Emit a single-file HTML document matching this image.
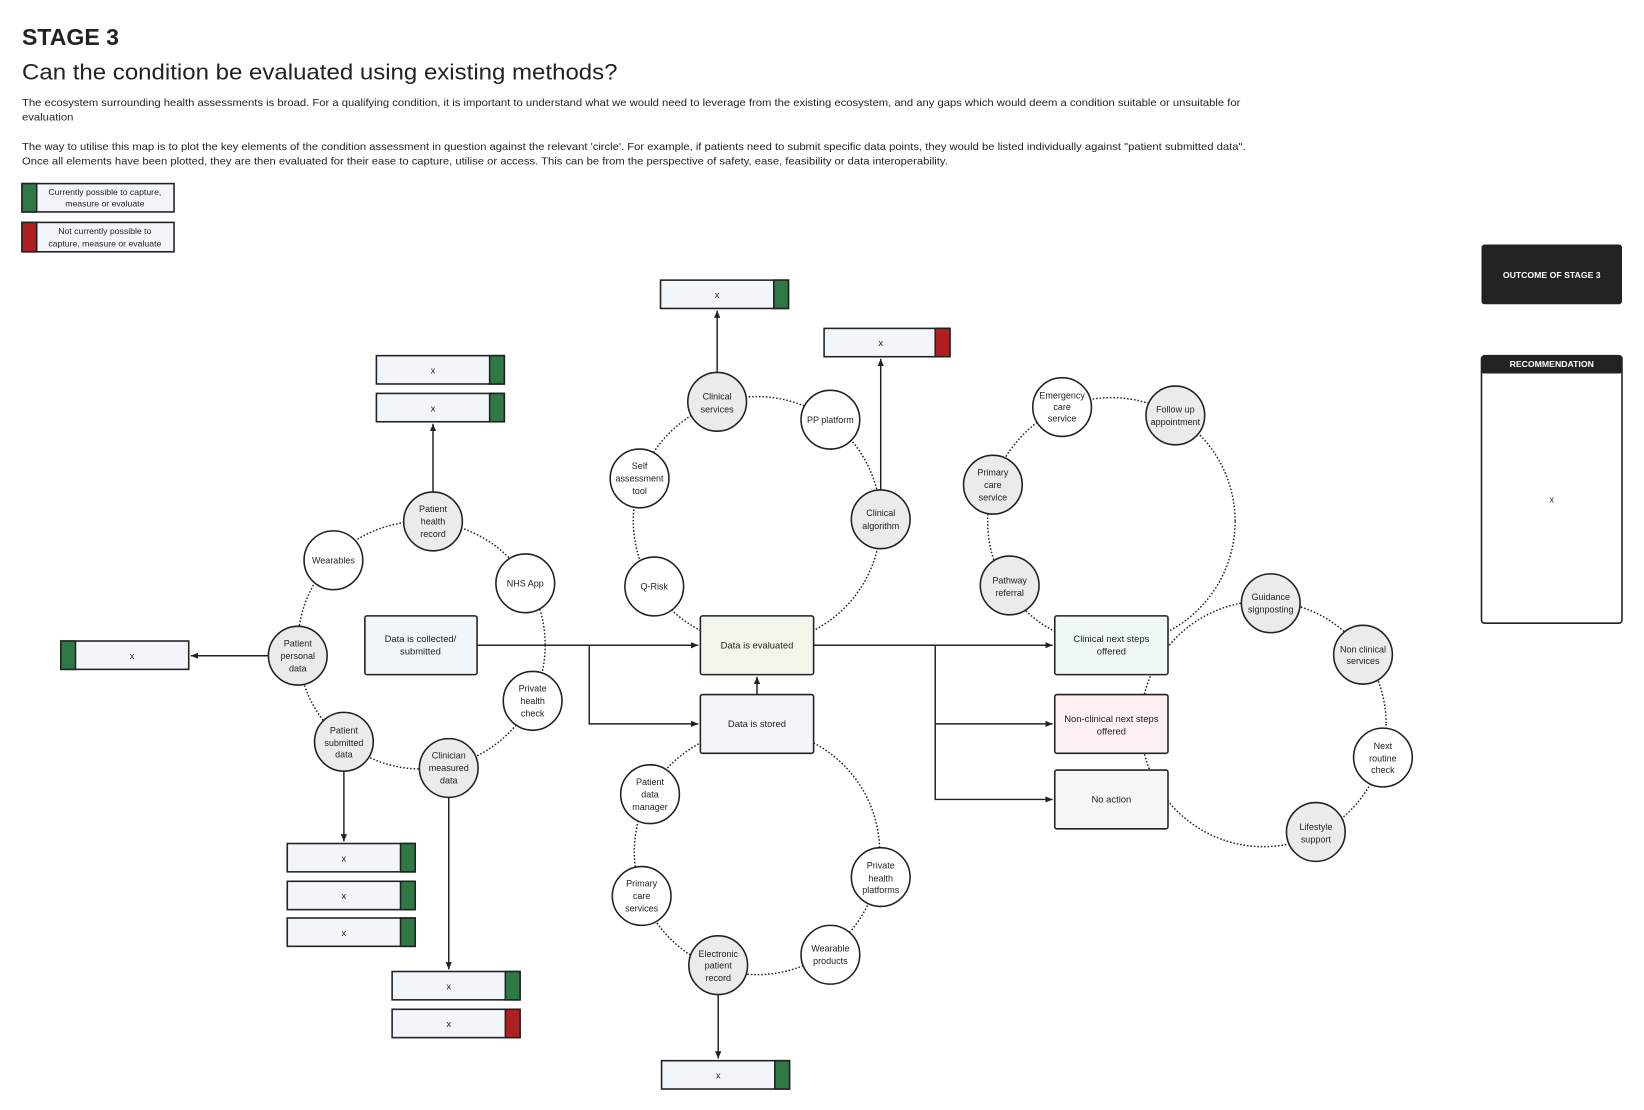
<!DOCTYPE html>
<html><head><meta charset="utf-8"><style>
html,body{margin:0;padding:0;background:#fff;}
svg{display:block;}
text{font-family:"Liberation Sans",sans-serif;fill:#222;}
</style></head><body>
<svg width="1644" height="1110" viewBox="0 0 1568 1058" preserveAspectRatio="none" xmlns="http://www.w3.org/2000/svg">
<defs>
<marker id="a" markerWidth="8" markerHeight="8" refX="7" refY="4" orient="auto" markerUnits="userSpaceOnUse"><path d="M0,1 L7,4 L0,7 z" fill="#222"/></marker>
</defs>
<text x="21" y="43" font-size="22" font-weight="bold">STAGE 3</text>
<text x="21" y="76" font-size="21" textLength="568" lengthAdjust="spacingAndGlyphs">Can the condition be evaluated using existing methods?</text>
<g font-size="9.6" lengthAdjust="spacingAndGlyphs">
<text x="21" y="101" textLength="1162" lengthAdjust="spacingAndGlyphs">The ecosystem surrounding health assessments is broad. For a qualifying condition, it is important to understand what we would need to leverage from the existing ecosystem, and any gaps which would deem a condition suitable or unsuitable for</text>
<text x="21" y="115" textLength="49" lengthAdjust="spacingAndGlyphs">evaluation</text>
<text x="21" y="143" textLength="1167" lengthAdjust="spacingAndGlyphs">The way to utilise this map is to plot the key elements of the condition assessment in question against the relevant 'circle'. For example, if patients need to submit specific data points, they would be listed individually against "patient submitted data".</text>
<text x="21" y="157" textLength="883" lengthAdjust="spacingAndGlyphs">Once all elements have been plotted, they are then evaluated for their ease to capture, utilise or access. This can be from the perspective of safety, ease, feasibility or data interoperability.</text>
</g>
<!-- legend -->
<rect x="21" y="175" width="145" height="27" fill="#f2f6fa" stroke="#222" stroke-width="1.5"/>
<rect x="21" y="175" width="14" height="27" fill="#2f7a44" stroke="#222" stroke-width="1.5"/>
<text x="100" y="186" font-size="8.3" text-anchor="middle">Currently possible to capture,</text>
<text x="100" y="197" font-size="8.3" text-anchor="middle">measure or evaluate</text>
<rect x="21" y="212" width="145" height="28" fill="#f2f6fa" stroke="#222" stroke-width="1.5"/>
<rect x="21" y="212" width="14" height="28" fill="#b02020" stroke="#222" stroke-width="1.5"/>
<text x="100" y="223" font-size="8.3" text-anchor="middle">Not currently possible to</text>
<text x="100" y="235" font-size="8.3" text-anchor="middle">capture, measure or evaluate</text>
<!-- right panel -->
<rect x="1413" y="233" width="134" height="57" rx="3" fill="#222"/>
<text x="1480" y="265" font-size="8.3" font-weight="bold" text-anchor="middle" style="fill:#fff">OUTCOME OF STAGE 3</text>
<rect x="1413" y="339" width="134" height="255" rx="3" fill="#fff" stroke="#222" stroke-width="1.5"/>
<rect x="1413" y="339" width="134" height="17" rx="2" fill="#222"/>
<text x="1480" y="350" font-size="8.3" font-weight="bold" text-anchor="middle" style="fill:#fff">RECOMMENDATION</text>
<text x="1480" y="479" font-size="8.5" text-anchor="middle">x</text>

<!-- dotted rings -->
<g fill="none" stroke="#222" stroke-width="1.4" stroke-dasharray="1.5 1.8">
<circle cx="402" cy="615" r="118"/>
<circle cx="722" cy="496" r="118"/>
<circle cx="722" cy="812" r="117"/>
<circle cx="1060" cy="497" r="118"/>
<circle cx="1205" cy="690" r="117"/>
</g>

<!-- connectors -->
<g stroke="#222" stroke-width="1.4" fill="none">
<path d="M455,615 H666" marker-end="url(#a)"/>
<path d="M562,615 V690 H666" marker-end="url(#a)"/>
<path d="M722,662 V645" marker-end="url(#a)"/>
<path d="M776,615 H1004" marker-end="url(#a)"/>
<path d="M892,615 V690 H1004" marker-end="url(#a)"/>
<path d="M892,690 V762 H1004" marker-end="url(#a)"/>
<path d="M413,469 V404" marker-end="url(#a)"/>
<path d="M256,625 H182" marker-end="url(#a)"/>
<path d="M328,735 V802" marker-end="url(#a)"/>
<path d="M428,760 V924" marker-end="url(#a)"/>
<path d="M684,355 V296" marker-end="url(#a)"/>
<path d="M840,467 V342" marker-end="url(#a)"/>
<path d="M685,948 V1009" marker-end="url(#a)"/>
</g>

<!-- process boxes -->
<g stroke="#222" stroke-width="1.5">
<rect x="348" y="587" width="107" height="56" rx="2" fill="#f1f6fa"/>
<rect x="668" y="587" width="108" height="56" rx="2" fill="#f0f7ea"/>
<rect x="668" y="662" width="108" height="56" rx="2" fill="#f4f4fb"/>
<rect x="1006" y="587" width="108" height="56" rx="2" fill="#eff8f5"/>
<rect x="1006" y="662" width="108" height="56" rx="2" fill="#fcf0f0"/>
<rect x="1006" y="734" width="108" height="56" rx="2" fill="#f6f6f6"/>
</g>
<g font-size="9" text-anchor="middle">
<text x="401" y="612">Data is collected/</text><text x="401" y="624">submitted</text>
<text x="722" y="618">Data is evaluated</text>
<text x="722" y="693">Data is stored</text>
<text x="1060" y="612">Clinical next steps</text><text x="1060" y="624">offered</text>
<text x="1060" y="688">Non-clinical next steps</text><text x="1060" y="700">offered</text>
<text x="1060" y="765">No action</text>
</g>

<!-- x boxes -->
<g stroke="#222" stroke-width="1.5">
<rect x="359" y="339" width="122" height="27" fill="#f2f6fa"/><rect x="467" y="339" width="14" height="27" fill="#2f7a44"/>
<rect x="359" y="375" width="122" height="27" fill="#f2f6fa"/><rect x="467" y="375" width="14" height="27" fill="#2f7a44"/>
<rect x="58" y="611" width="122" height="27" fill="#f2f6fa"/><rect x="58" y="611" width="14" height="27" fill="#2f7a44"/>
<rect x="274" y="804" width="122" height="27" fill="#f2f6fa"/><rect x="382" y="804" width="14" height="27" fill="#2f7a44"/>
<rect x="274" y="840" width="122" height="27" fill="#f2f6fa"/><rect x="382" y="840" width="14" height="27" fill="#2f7a44"/>
<rect x="274" y="875" width="122" height="27" fill="#f2f6fa"/><rect x="382" y="875" width="14" height="27" fill="#2f7a44"/>
<rect x="374" y="926" width="122" height="27" fill="#f2f6fa"/><rect x="482" y="926" width="14" height="27" fill="#2f7a44"/>
<rect x="374" y="962" width="122" height="27" fill="#f2f6fa"/><rect x="482" y="962" width="14" height="27" fill="#b02020"/>
<rect x="630" y="267" width="122" height="27" fill="#f2f6fa"/><rect x="738" y="267" width="14" height="27" fill="#2f7a44"/>
<rect x="786" y="313" width="120" height="27" fill="#f2f6fa"/><rect x="892" y="313" width="14" height="27" fill="#b02020"/>
<rect x="631" y="1011" width="122" height="27" fill="#f2f6fa"/><rect x="739" y="1011" width="14" height="27" fill="#2f7a44"/>
</g>
<g font-size="9" text-anchor="middle">
<text x="413" y="356">x</text><text x="413" y="392">x</text>
<text x="126" y="628">x</text>
<text x="328" y="821">x</text><text x="328" y="857">x</text><text x="328" y="892">x</text>
<text x="428" y="943">x</text><text x="428" y="979">x</text>
<text x="684" y="284">x</text><text x="840" y="330">x</text><text x="685" y="1028">x</text>
</g>

<!-- circles -->
<g stroke="#222" stroke-width="1.5">
<circle cx="413" cy="497" r="28" fill="#ebebeb"/>
<circle cx="318" cy="534" r="28" fill="#fff"/>
<circle cx="501" cy="556" r="28" fill="#fff"/>
<circle cx="284" cy="625" r="28" fill="#ebebeb"/>
<circle cx="508" cy="668" r="28" fill="#fff"/>
<circle cx="328" cy="707" r="28" fill="#ebebeb"/>
<circle cx="428" cy="732" r="28" fill="#ebebeb"/>
<circle cx="684" cy="383" r="28" fill="#ebebeb"/>
<circle cx="792" cy="400" r="28" fill="#fff"/>
<circle cx="610" cy="456" r="28" fill="#fff"/>
<circle cx="840" cy="495" r="28" fill="#ebebeb"/>
<circle cx="624" cy="559" r="28" fill="#fff"/>
<circle cx="620" cy="757" r="28" fill="#fff"/>
<circle cx="612" cy="854" r="28" fill="#fff"/>
<circle cx="685" cy="920" r="28" fill="#ebebeb"/>
<circle cx="792" cy="910" r="28" fill="#fff"/>
<circle cx="840" cy="836" r="28" fill="#fff"/>
<circle cx="1013" cy="388" r="28" fill="#fff"/>
<circle cx="1121" cy="396" r="28" fill="#ebebeb"/>
<circle cx="947" cy="462" r="28" fill="#ebebeb"/>
<circle cx="963" cy="558" r="28" fill="#ebebeb"/>
<circle cx="1212" cy="575" r="28" fill="#ebebeb"/>
<circle cx="1300" cy="624" r="28" fill="#ebebeb"/>
<circle cx="1319" cy="722" r="28" fill="#fff"/>
<circle cx="1255" cy="793" r="28" fill="#ebebeb"/>
</g>
<g font-size="8.6" text-anchor="middle">
<text x="413" y="488">Patient</text><text x="413" y="500">health</text><text x="413" y="512">record</text>
<text x="318" y="537">Wearables</text>
<text x="501" y="559">NHS App</text>
<text x="284" y="616">Patient</text><text x="284" y="628">personal</text><text x="284" y="640">data</text>
<text x="508" y="659">Private</text><text x="508" y="671">health</text><text x="508" y="683">check</text>
<text x="328" y="699">Patient</text><text x="328" y="711">submitted</text><text x="328" y="722">data</text>
<text x="428" y="723">Clinician</text><text x="428" y="735">measured</text><text x="428" y="747">data</text>
<text x="684" y="381">Clinical</text><text x="684" y="393">services</text>
<text x="792" y="403">PP platform</text>
<text x="610" y="447">Self</text><text x="610" y="459">assessment</text><text x="610" y="471">tool</text>
<text x="840" y="492">Clinical</text><text x="840" y="504">algorithm</text>
<text x="624" y="562">Q-Risk</text>
<text x="620" y="748">Patient</text><text x="620" y="760">data</text><text x="620" y="772">manager</text>
<text x="612" y="845">Primary</text><text x="612" y="857">care</text><text x="612" y="869">services</text>
<text x="685" y="912">Electronic</text><text x="685" y="923">patient</text><text x="685" y="935">record</text>
<text x="792" y="907">Wearable</text><text x="792" y="919">products</text>
<text x="840" y="828">Private</text><text x="840" y="840">health</text><text x="840" y="851">platforms</text>
<text x="1013" y="380">Emergency</text><text x="1013" y="391">care</text><text x="1013" y="402">service</text>
<text x="1121" y="393">Follow up</text><text x="1121" y="405">appointment</text>
<text x="947" y="453">Primary</text><text x="947" y="465">care</text><text x="947" y="477">service</text>
<text x="963" y="556">Pathway</text><text x="963" y="568">referral</text>
<text x="1212" y="572">Guidance</text><text x="1212" y="584">signposting</text>
<text x="1300" y="622">Non clinical</text><text x="1300" y="633">services</text>
<text x="1319" y="714">Next</text><text x="1319" y="726">routine</text><text x="1319" y="737">check</text>
<text x="1255" y="791">Lifestyle</text><text x="1255" y="803">support</text>
</g>
</svg>
</body></html>
